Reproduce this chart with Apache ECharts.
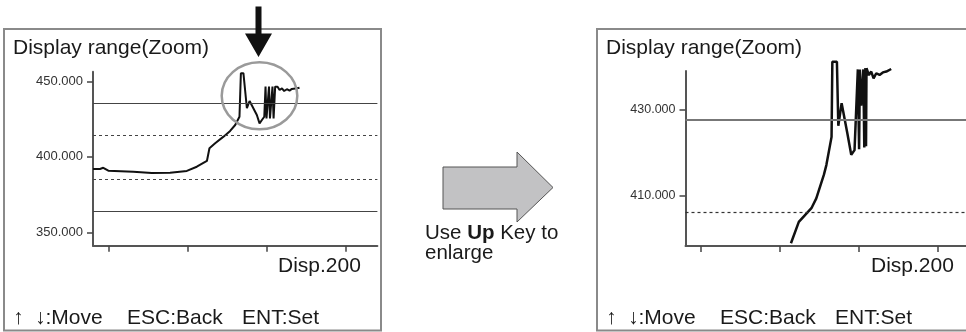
<!DOCTYPE html>
<html>
<head>
<meta charset="utf-8">
<script src="https://cdn.jsdelivr.net/npm/echarts@6/dist/echarts.min.js"></script>
<style>
html,body{margin:0;padding:0;background:#fff;}
#chart{width:966px;height:332px;}
</style>
</head>
<body>
<div id="chart"></div>
<script>
// ---- Data ----
// Left panel: full display range
const leftX = [0, 4.4, 6.5, 9.7, 25.5, 37.2, 48.8, 59.4, 65.7, 72.1, 73.7, 77.3, 82.6, 86.8, 90, 92.7,
  93.6, 95.2, 97.4, 99.1, 103.7, 105.4, 106.9, 108.4,
  109.2, 109.8, 111.4, 112.0, 113.6, 114.3, 115.3,
  116.8, 118.1, 119.6, 121.0, 122.7, 124.4, 125.9, 129.1, 130.7];
const leftY = [392, 392, 392.8, 390.9, 390.2, 389.3, 389.5, 390.7, 393.5, 397.3, 405.7, 409, 413.4, 417.2, 421.1, 426.6,
  455.4, 455.4, 432.2, 437, 427.7, 422.2, 424.4, 426.6,
  446.5, 425.5, 446.5, 425.5, 446.5, 425.5, 446.5,
  446.5, 444.3, 445.4, 443.6, 444.8, 443.9, 445, 445.4, 445.8];
const leftSolidLimits = [435.5, 364.2];
const leftDashedLimits = [414.3, 385.2];
const leftTickLabels = [350, 400, 450];

// Right panel: zoomed display range
const rightX = [67, 72, 80, 83.1, 87.9, 89.5, 92.8, 93.3, 96.2, 97.1, 99.2, 102.8, 105.3, 107.4,
  109.5, 110.3, 110.8, 111.6, 112.6, 113.0, 113.6, 114.3, 114.7, 115.0,
  116.5, 118, 119.5, 121.2, 123.3, 125.4, 127.6, 130.7];
const rightY = [398.8, 403.8, 407, 409.3, 414.8, 417.1, 423.7, 441.3, 441.3, 426.3, 431.6, 424.6, 419.5, 420.6,
  439.5, 420.8, 439.5, 431, 431, 439.5, 421.2, 439.8, 421.5, 439.8,
  438.2, 439, 437.4, 438.6, 438.2, 438.8, 439, 439.6];
const rightSolidLimits = [427.8];
const rightDashedLimits = [406.1];
const rightTickLabels = [410, 430];

const xTicks = [10, 60, 110, 160];

const titleText = 'Display range(Zoom)';
const dispText = 'Disp.200';
const keyTexts = ['\u2191', '\u2193:Move', 'ESC:Back', 'ENT:Set'];

// ---- Chart ----
const FONT = '"Liberation Sans", Arial, sans-serif';
const chart = echarts.init(document.getElementById('chart'), null, {renderer: 'canvas'});

function zip(xs, ys) { return xs.map((x, i) => [x, ys[i]]); }
function limitLines(solid, dashed, solidStyle, dashedStyle) {
  return solid.map(v => ({yAxis: v, lineStyle: solidStyle}))
    .concat(dashed.map(v => ({yAxis: v, lineStyle: dashedStyle})));
}
function xAxisDef(gi) {
  return {
    type: 'value', gridIndex: gi, min: 0, max: 180,
    axisLine: {show: true, lineStyle: {color: '#555', width: 2}},
    axisTick: {show: true, customValues: xTicks, length: 6, lineStyle: {color: '#444', width: 1.5}},
    axisLabel: {show: false},
    splitLine: {show: false}
  };
}
function yAxisDef(gi, min, max, ticks, fs) {
  return {
    type: 'value', gridIndex: gi, min: min, max: max,
    axisLine: {show: true, lineStyle: {color: '#555', width: 2}},
    axisTick: {show: true, customValues: ticks, length: 6, lineStyle: {color: '#444', width: 1.5}},
    axisLabel: {show: true, customValues: ticks, margin: 10, fontSize: fs, color: '#333', fontFamily: FONT,
      formatter: v => Number(v).toFixed(3)},
    splitLine: {show: false}
  };
}

const graphics = [];
// panel frames
graphics.push({type: 'rect', shape: {x: 4, y: 29, width: 377, height: 301.5},
  style: {fill: 'none', stroke: '#8a8a8a', lineWidth: 2}, z: 0});
graphics.push({type: 'rect', shape: {x: 597, y: 29, width: 400, height: 301.5},
  style: {fill: 'none', stroke: '#8a8a8a', lineWidth: 2}, z: 0});
// texts in both panels
[0, 593].forEach(off => {
  graphics.push({type: 'text', x: 13 + off, y: 48, style: {text: titleText, font: '21px ' + FONT, fill: '#1a1a1a', verticalAlign: 'middle'}});
  graphics.push({type: 'text', x: 278 + off, y: 266, style: {text: dispText, font: '21px ' + FONT, fill: '#1a1a1a', verticalAlign: 'middle'}});
  const kx = [13, 35, 127, 242];
  keyTexts.forEach((t, i) => {
    graphics.push({type: 'text', x: kx[i] + off, y: 318, style: {text: t, font: '21px ' + FONT, fill: '#1a1a1a', verticalAlign: 'middle'}});
  });
});
// black pointer arrow
graphics.push({type: 'polygon', z: 10, shape: {points: [[255.5, 6.5], [261.5, 6.5], [261.5, 33.5], [272, 33.5], [258.5, 57], [245, 33.5], [255.5, 33.5]]},
  style: {fill: '#111', stroke: 'none'}});
// gray highlight ellipse
graphics.push({type: 'ellipse', z: 10, shape: {cx: 259.5, cy: 95.8, rx: 37.8, ry: 33.5},
  style: {fill: 'none', stroke: '#9a9a9a', lineWidth: 2.5}});
// big gray arrow
graphics.push({type: 'polygon', z: 5, shape: {points: [[443, 167], [517, 167], [517, 152], [553, 187.5], [517, 222], [517, 209], [443, 209]]},
  style: {fill: '#c2c2c4', stroke: '#555', lineWidth: 1}});
graphics.push({type: 'text', x: 425, y: 223, z: 5, style: {
  text: '{r|Use }{b|Up}{r| Key to}\n{r|enlarge}',
  verticalAlign: 'top',
  rich: {
    r: {fontSize: 20.5, fontFamily: FONT, fill: '#1a1a1a', lineHeight: 20},
    b: {fontSize: 20.5, fontFamily: FONT, fontWeight: 'bold', fill: '#1a1a1a', lineHeight: 20}
  }
}});

const option = {
  backgroundColor: '#fff',
  animation: false,
  grid: [
    {left: 93, top: 71.7, width: 284.4, height: 174, containLabel: false, outerBoundsMode: 'none'},
    {left: 685.5, top: 71, width: 283.3, height: 175, containLabel: false, outerBoundsMode: 'none'}
  ],
  xAxis: [xAxisDef(0), xAxisDef(1)],
  yAxis: [yAxisDef(0, 341.2, 456.4, leftTickLabels, 13), yAxisDef(1, 398.15, 439.13, rightTickLabels, 12.5)],
  series: [
    {
      type: 'line', xAxisIndex: 0, yAxisIndex: 0, data: zip(leftX, leftY),
      symbol: 'none', clip: false, z: 3,
      lineStyle: {color: '#111', width: 2},
      markLine: {
        silent: true, symbol: ['none', 'none'], label: {show: false}, animation: false,
        data: limitLines(leftSolidLimits, leftDashedLimits,
          {type: 'solid', color: '#444', width: 1.2},
          {type: [3, 3], color: '#444', width: 1.2})
      }
    },
    {
      type: 'line', xAxisIndex: 1, yAxisIndex: 1, data: zip(rightX, rightY),
      symbol: 'none', clip: false, z: 3,
      lineStyle: {color: '#111', width: 2.5},
      markLine: {
        silent: true, symbol: ['none', 'none'], label: {show: false}, animation: false,
        data: limitLines(rightSolidLimits, rightDashedLimits,
          {type: 'solid', color: '#777', width: 2},
          {type: [3, 3], color: '#333', width: 1.2})
      }
    }
  ],
  graphic: graphics
};
chart.setOption(option);
</script>
</body>
</html>
